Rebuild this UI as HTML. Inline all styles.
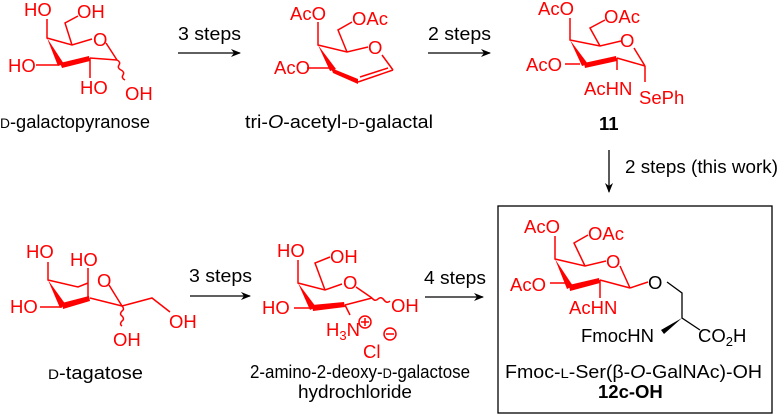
<!DOCTYPE html>
<html><head><meta charset="utf-8"><style>
html,body{margin:0;padding:0;background:#fff}
svg{display:block}
text{font-family:"Liberation Sans",sans-serif;font-size:18.5px}
.r{fill:#f00}.k{fill:#000}
.sr{stroke:#f00;stroke-width:1.5;fill:none}
.sk{stroke:#000;stroke-width:1.3;fill:none}
</style></head><body>
<svg width="784" height="415" viewBox="0 0 784 415" xmlns="http://www.w3.org/2000/svg">
<defs><marker id="ah" markerWidth="10" markerHeight="8" refX="9" refY="4" orient="auto" markerUnits="userSpaceOnUse"><path d="M0,0 L10,4 L0,8 L3,4z" fill="#000"/></marker></defs>

<!-- D-galactopyranose -->
<g>
<path class="sr" d="M47,19 V38 L72,45 L92,39 M106,43 L117,60 M90,58 V78 M36,65 H58 M72,45 L65,23 L78,16"/>
<polygon points="47,38 58,66 64,64" fill="#f00"/>
<polygon points="60,63 62,68 90,61 89,56" fill="#f00"/>
<path class="sr" d="M90,58 L117,60"/>
<path class="sr" d="M117,60 q4,2 2,5 q-2,3 2,5 q4,2 2,5 q-2,3 2,5" />
<text class="r" x="24" y="16">HO</text><text class="r" x="77" y="18">OH</text>
<text class="r" x="93" y="46">O</text>
<text class="r" x="8" y="72">HO</text><text class="r" x="80" y="94">HO</text><text class="r" x="125" y="100">OH</text>
</g>
<text class="k" x="0" y="128" textLength="150" lengthAdjust="spacingAndGlyphs"><tspan font-size="14">D</tspan>-galactopyranose</text>

<line class="sk" x1="178" y1="53" x2="240" y2="53" marker-end="url(#ah)"/>
<text class="k" x="178" y="40" textLength="63" lengthAdjust="spacingAndGlyphs">3 steps</text>

<!-- galactal -->
<g>
<path class="sr" d="M318,22 V45 L347,52 L368,47 M382,55 L393,70 M307,68 H330 M347,52 L338,30 L352,22"/>
<polygon points="318,45 330,71 336,69" fill="#f00"/>
<polygon points="331,68 333,73 358,84 358,79" fill="#f00"/>
<path class="sr" d="M358,82 L393,70 M360,77 L388,68"/>
<text class="r" x="290" y="20">AcO</text><text class="r" x="352" y="25">OAc</text>
<text class="r" x="368" y="54">O</text><text class="r" x="274" y="74">AcO</text>
</g>
<text class="k" x="245" y="128" textLength="188" lengthAdjust="spacingAndGlyphs">tri-<tspan font-style="italic">O</tspan>-acetyl-<tspan font-size="14">D</tspan>-galactal</text>

<line class="sk" x1="428" y1="53" x2="490" y2="53" marker-end="url(#ah)"/>
<text class="k" x="428" y="40" textLength="63" lengthAdjust="spacingAndGlyphs">2 steps</text>

<!-- compound 11 -->
<g>
<path class="sr" d="M570,18 V40 L600,46 L621,41 M634,48 L645,66 M617,58 V70 M565,64 H580 M600,46 L590,28 L605,20 M645,66 V82"/>
<polygon points="570,40 582,66 588,64" fill="#f00"/>
<polygon points="584,63 585,68 617,61 616,56" fill="#f00"/>
<path class="sr" d="M617,58 L645,66"/>
<text class="r" x="538" y="15">AcO</text><text class="r" x="604" y="23">OAc</text>
<text class="r" x="620" y="47">O</text><text class="r" x="526" y="71">AcO</text>
<text class="r" x="584" y="95">AcHN</text><text class="r" x="639" y="104">SePh</text>
</g>
<text class="k" x="599" y="130" font-weight="bold">11</text>

<line class="sk" x1="609" y1="150" x2="609" y2="192" marker-end="url(#ah)"/>
<text class="k" x="625" y="173" textLength="153" lengthAdjust="spacingAndGlyphs">2 steps (this work)</text>

<!-- D-tagatose -->
<g>
<path class="sr" d="M48,262 V280 L78,287 L88,283 M109,285 L122,306 M88,268 V298 M40,307 H62 M122,306 L152,298 L170,312"/>
<polygon points="48,280 60,308 66,305" fill="#f00"/>
<polygon points="62,303 63,309 90,301 89,296" fill="#f00"/>
<path class="sr" d="M90,298 L122,306"/>
<path class="sr" d="M122,306 q3,3 0,5 q-3,3 0,5 q3,3 0,5 q-3,3 0,5"/>
<text class="r" x="26" y="258">HO</text><text class="r" x="70" y="266">HO</text>
<text class="r" x="97" y="287">O</text><text class="r" x="10" y="313">HO</text>
<text class="r" x="169" y="328">OH</text><text class="r" x="113" y="346">OH</text>
</g>
<text class="k" x="48" y="379" textLength="95" lengthAdjust="spacingAndGlyphs"><tspan font-size="14">D</tspan>-tagatose</text>

<line class="sk" x1="190" y1="296" x2="250" y2="296" marker-end="url(#ah)"/>
<text class="k" x="189" y="282" textLength="63" lengthAdjust="spacingAndGlyphs">3 steps</text>

<!-- aminosugar -->
<g>
<path class="sr" d="M298,260 V283 L325,290 L342,284 M356,287 L372,298 M294,308 H313 M325,290 L315,263 L330,257"/>
<polygon points="298,283 310,310 316,307" fill="#f00"/>
<polygon points="312,305 313,311 345,307 344,302" fill="#f00"/>
<path class="sr" d="M345,305 L372,298 M345,305 L350,315"/>
<path class="sr" d="M372,298 q3,4 6,1 q3,-3 6,1 q3,4 6,1"/>
<text class="r" x="277" y="257">HO</text><text class="r" x="330" y="263">OH</text>
<text class="r" x="343" y="289">O</text><text class="r" x="391" y="312">OH</text>
<text class="r" x="262" y="314">HO</text>
<text class="r" x="326" y="336">H<tspan font-size="13" dy="4">3</tspan><tspan dy="-4">N</tspan></text>
<circle cx="365" cy="322" r="6" class="sr" stroke-width="1.2"/><path class="sr" stroke-width="1.2" d="M361,322 h8 M365,318 v8"/>
<circle cx="390" cy="334" r="6" class="sr" stroke-width="1.2"/><path class="sr" stroke-width="1.2" d="M386,334 h8"/>
<text class="r" x="363" y="358">Cl</text>
</g>
<text class="k" x="250" y="378" textLength="220" lengthAdjust="spacingAndGlyphs">2-amino-2-deoxy-<tspan font-size="14">D</tspan>-galactose</text>
<text class="k" x="298" y="398" textLength="114" lengthAdjust="spacingAndGlyphs">hydrochloride</text>

<line class="sk" x1="425" y1="297" x2="483" y2="297" marker-end="url(#ah)"/>
<text class="k" x="424" y="284" textLength="62" lengthAdjust="spacingAndGlyphs">4 steps</text>

<!-- box -->
<rect x="498" y="206" width="274" height="207" fill="none" stroke="#000" stroke-width="1.3"/>
<g>
<path class="sr" d="M555,236 V259 L585,266 L606,261 M620,266 L630,288 M600,280 V298 M550,283 H570 M585,266 L574,243 L588,235 M630,288 L648,282"/>
<polygon points="555,259 567,289 573,286" fill="#f00"/>
<polygon points="569,285 570,291 600,283 599,278" fill="#f00"/>
<path class="sr" d="M600,280 L630,288"/>
<text class="r" x="524" y="233">AcO</text><text class="r" x="588" y="240">OAc</text>
<text class="r" x="606" y="268">O</text><text class="r" x="510" y="291">AcO</text>
<text class="r" x="569" y="314">AcHN</text>
</g>
<path class="sk" d="M667,282 L682,293 V318 L700,330"/>
<polygon points="682,318 661,330 664,334" fill="#000"/>
<text class="k" x="648" y="289">O</text>
<text class="k" x="581" y="342">FmocHN</text>
<text class="k" x="698" y="342">CO<tspan font-size="13" dy="4">2</tspan><tspan dy="-4">H</tspan></text>
<text class="k" x="505" y="378" textLength="257" lengthAdjust="spacingAndGlyphs">Fmoc-<tspan font-size="14">L</tspan>-Ser(β-<tspan font-style="italic">O</tspan>-GalNAc)-OH</text>
<text class="k" x="598" y="398" font-weight="bold">12c-OH</text>
</svg>
</body></html>
